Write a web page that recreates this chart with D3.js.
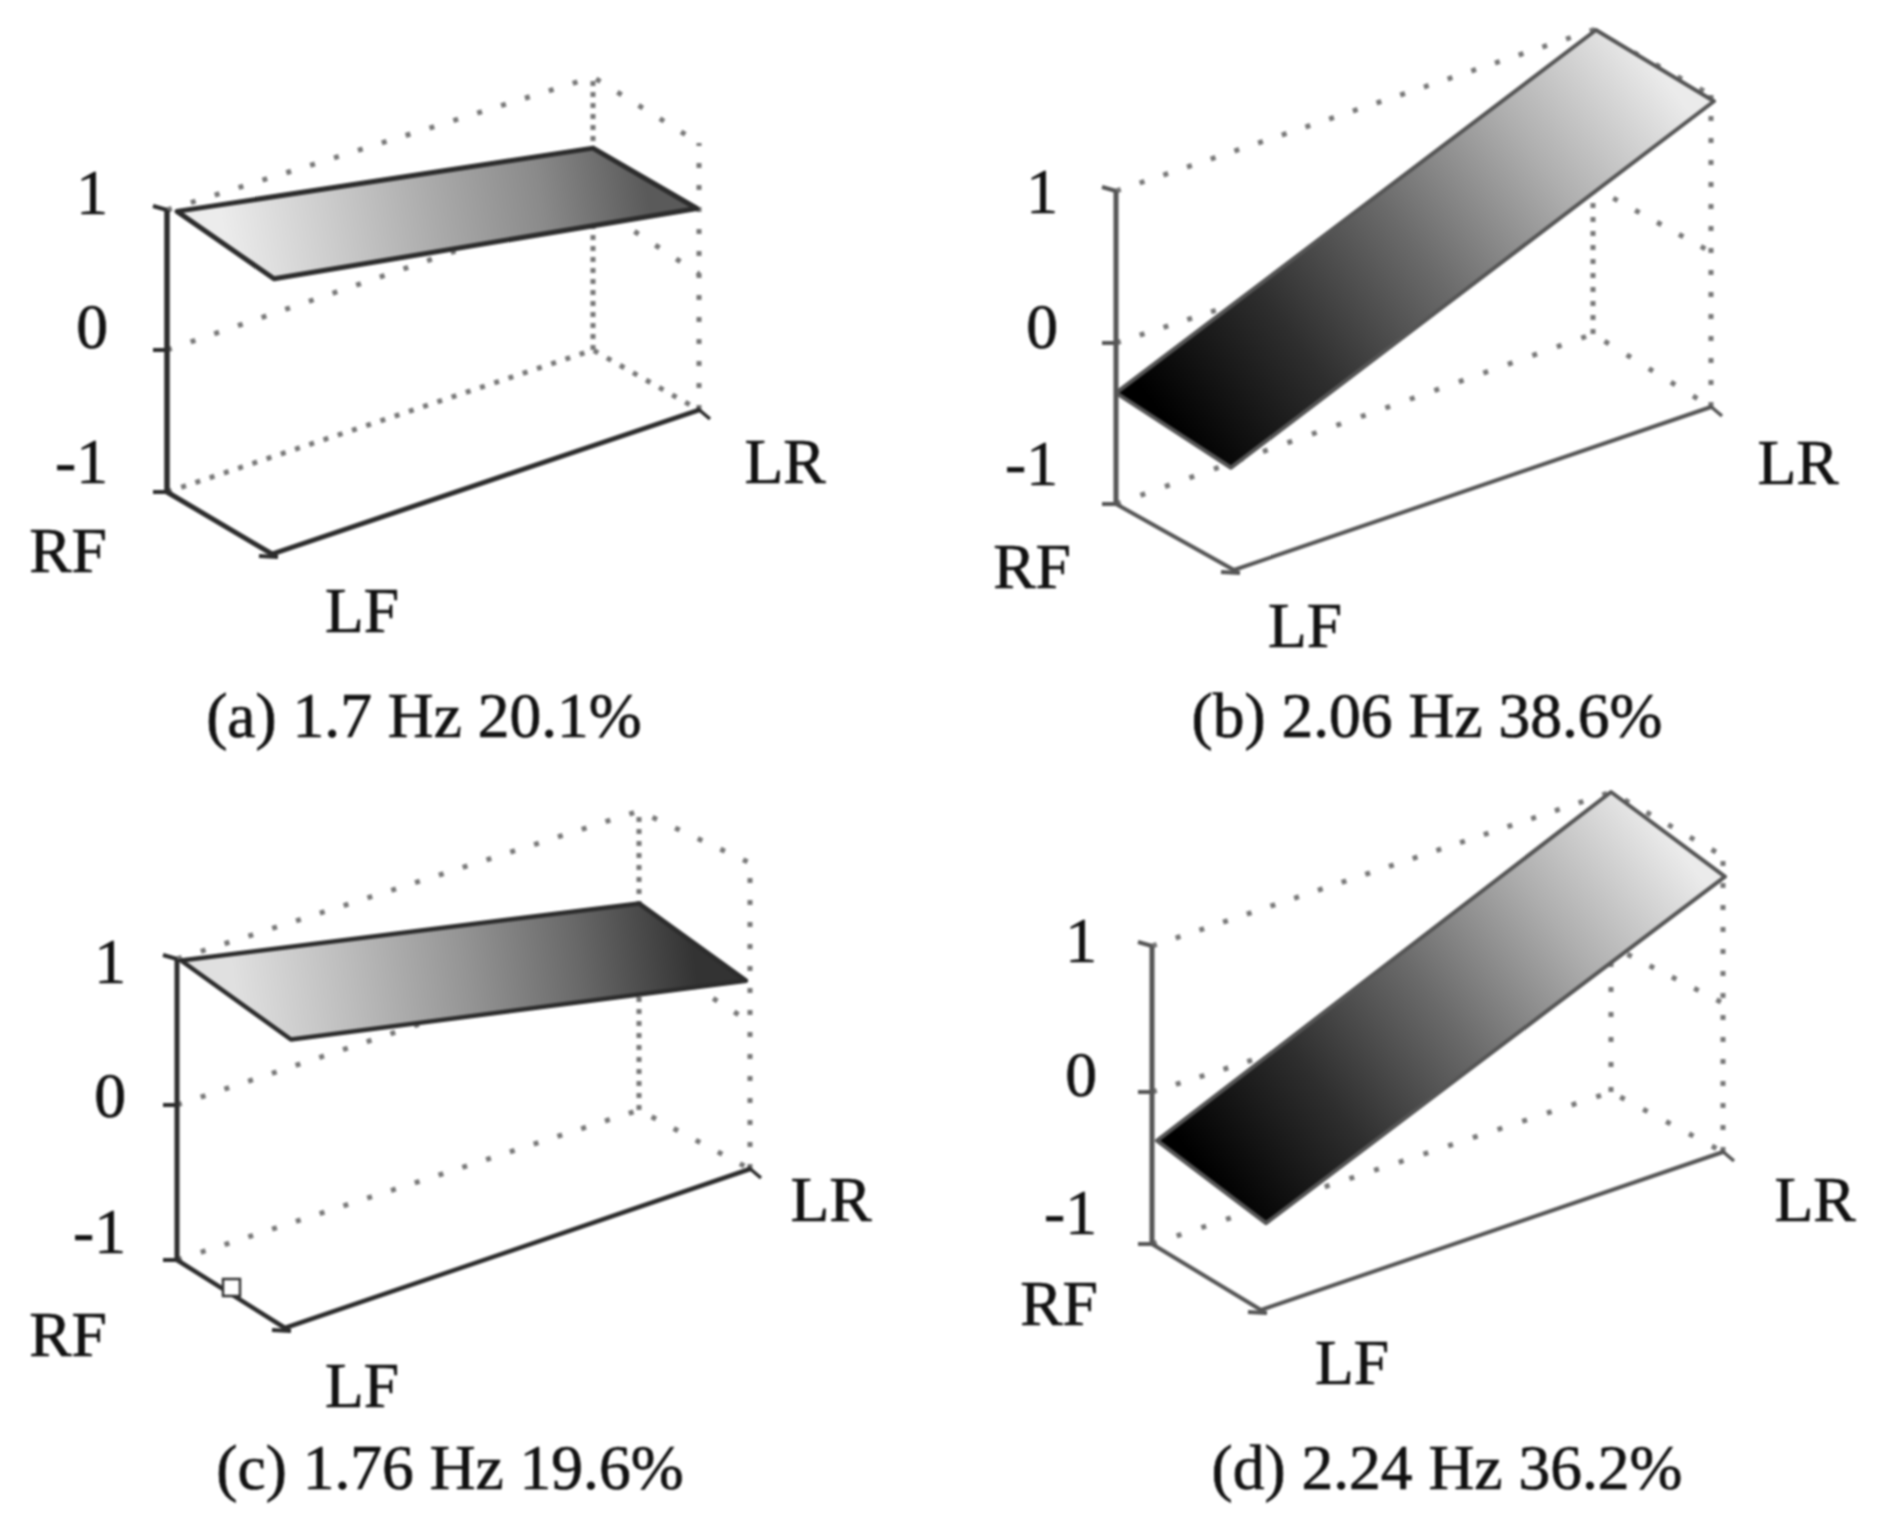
<!DOCTYPE html>
<html>
<head>
<meta charset="utf-8">
<script src="https://cdn.jsdelivr.net/npm/d3@7"></script>
<style>
  html, body { margin: 0; padding: 0; background: #fff; }
  svg { display: block; filter: blur(0.8px); }
  text { font-family: "Liberation Serif", serif; fill: #111; stroke: #111; stroke-width: 0.7px; }
</style>
</head>
<body>
<div id="graphic"></div>
<script>
// Values: mode shape at the four corners
const cornerNames = ["RF", "LF", "LR", "RR"];
const zTicks = [-1, 0, 1];
const zTickLabels = ["-1", "0", "1"];
const captions = ["(a) 1.7 Hz 20.1%", "(b) 2.06 Hz 38.6%", "(c) 1.76 Hz 19.6%", "(d) 2.24 Hz 36.2%"];
const modeA = [0.99, 0.91, 0.50, 0.44];
const modeB = [-0.31, -0.38, 0.96, 1.0];
const modeC = [0.99, 0.89, 0.26, 0.34];
const modeD = [-0.32, -0.44, 0.86, 1.0];

const darkShade = ["#000000", "#2e2e2e", "#6a6a6a", "#aeaeae", "#ebebeb"];

// Panel geometry. Each corner: x, y at z=-1, y at z=0, y at z=1, x of the surface corner
const panels = [
  {
    values: modeA,
    corners: { RF: [167, 492, 350, 210, 177], LF: [272, 554, 408, 266, 274], LR: [699, 410, 274, 143, 697], RR: [593, 350, 204, 77, 593] },
    shade: ["#ececec", "#cccccc", "#aaaaaa", "#8a8a8a", "#5a5a5a"], axisColor: "#2c2c2c", axisWidth: 5.5, edgeWidth: 5,
    gaps: { top: 25, mid: 25, base: 15, rr: 11, lr: 22 },
    ticksEnd: 108, tickY: [483, 348, 214],
    labels: { RF: [68, 572], LF: [362, 632], LR: [785, 483] }, caption: [424, 737]
  },
  {
    values: modeB,
    corners: { RF: [1116, 504, 343, 191, 1116], LF: [1234, 570, 405, 250, 1231], LR: [1711, 407, 252, 95, 1714], RR: [1593, 334, 187, 30, 1596] },
    shade: darkShade, axisColor: "#555", axisWidth: 5, edgeWidth: 4,
    gaps: { top: 25, mid: 25, base: 26, rr: 14, lr: 22 },
    ticksEnd: 1058, tickY: [485, 348, 213],
    labels: { RF: [1032, 588], LF: [1305, 647], LR: [1798, 484] }, caption: [1427, 737]
  },
  {
    values: modeC,
    corners: { RF: [177, 1260, 1105, 959, 181], LF: [285, 1328, 1173, 1023, 291], LR: [750, 1169, 1022, 863, 746], RR: [639, 1110, 951, 811, 639] },
    shade: ["#e0e0e0", "#bcbcbc", "#959595", "#686868", "#333333"], axisColor: "#2c2c2c", axisWidth: 5, edgeWidth: 4.5,
    gaps: { top: 25, mid: 25, base: 25, rr: 12, lr: 22 },
    ticksEnd: 126, tickY: [1253, 1117, 983],
    labels: { RF: [68, 1356], LF: [362, 1407], LR: [831, 1221] }, caption: [450, 1489],
    marker: 0.5
  },
  {
    values: modeD,
    corners: { RF: [1152, 1244, 1092, 946, 1157], LF: [1261, 1310, 1155, 1008, 1266], LR: [1723, 1152, 1003, 856, 1725], RR: [1611, 1092, 946, 792, 1611] },
    shade: darkShade, axisColor: "#555", axisWidth: 5, edgeWidth: 4,
    gaps: { top: 25, mid: 25, base: 26, rr: 25, lr: 22 },
    ticksEnd: 1097, tickY: [1234, 1096, 962],
    labels: { RF: [1059, 1325], LF: [1352, 1384], LR: [1815, 1221] }, caption: [1447, 1489]
  }
];

const svg = d3.select("#graphic")
  .append("svg")
  .attr("width", 1884)
  .attr("height", 1524);

const defs = svg.append("defs");
const line = d3.line();
const fontSize = 63.5;

panels.forEach(function drawPanel(panel, i) {
  const g = svg.append("g");
  const c = panel.corners;

  // One z scale for each vertical edge of the box
  const z = {};
  cornerNames.forEach(name => {
    z[name] = d3.scaleLinear().domain(zTicks).range(c[name].slice(1, 4));
  });
  const at = (name, value) => [c[name][0], z[name](value)];

  // Dotted back walls
  const dotted = (points, gap) => g.append("path")
    .attr("d", line(points))
    .attr("fill", "none")
    .attr("stroke", "#777")
    .attr("stroke-width", 5)
    .attr("stroke-dasharray", `5 ${gap - 5}`);

  dotted([at("RF", 1), at("RR", 1), at("LR", 1)], panel.gaps.top);
  dotted([at("RF", 0), at("RR", 0), at("LR", 0)], panel.gaps.mid);
  dotted([at("RF", -1), at("RR", -1), at("LR", -1)], panel.gaps.base);
  dotted([at("RR", -1), at("RR", 1)], panel.gaps.rr);
  dotted([at("LR", -1), at("LR", 1)], panel.gaps.lr);

  // Solid axis, base edges and little ticks
  const solid = (points, width) => g.append("path")
    .attr("d", line(points))
    .attr("fill", "none")
    .attr("stroke", panel.axisColor)
    .attr("stroke-width", width);

  solid([at("RF", -1), at("RF", 1)], panel.axisWidth);
  solid([at("RF", -1), at("LF", -1), at("LR", -1)], panel.edgeWidth);
  zTicks.forEach(t => {
    const [x, y] = at("RF", t);
    solid([[x - 14, y - (t === 1 ? 4 : 0)], [x, y]], 4);
  });
  const [lfx, lfy] = at("LF", -1);
  solid([[lfx - 13, lfy + 2], [lfx + 6, lfy + 3]], 4);
  const [lrx, lry] = at("LR", -1);
  solid([[lrx - 2, lry - 2], [lrx + 11, lry + 9]], 3.5);

  // Surface, shaded from its low end to its high end
  const surface = cornerNames.map((name, k) => [c[name][4], z[name](panel.values[k])]);
  const mid = (a, b) => [(a[0] + b[0]) / 2, (a[1] + b[1]) / 2];
  const from = mid(surface[0], surface[1]);
  const to = mid(surface[2], surface[3]);
  const gradient = defs.append("linearGradient")
    .attr("id", `shade-${i}`)
    .attr("gradientUnits", "userSpaceOnUse")
    .attr("x1", from[0]).attr("y1", from[1])
    .attr("x2", to[0]).attr("y2", to[1]);
  panel.shade.forEach((color, k) => {
    gradient.append("stop")
      .attr("offset", k / (panel.shade.length - 1))
      .attr("stop-color", color);
  });

  g.append("path")
    .attr("d", line([surface[0], surface[1], surface[2], surface[3]]) + "Z")
    .attr("fill", `url(#shade-${i})`)
    .attr("stroke", panel.axisColor)
    .attr("stroke-width", panel.edgeWidth)
    .attr("stroke-linejoin", "round");

  // Stray square marker on the RF-LF edge of panel (c)
  if (panel.marker) {
    const p = d3.interpolate(at("RF", -1), at("LF", -1))(panel.marker);
    g.append("rect")
      .attr("x", p[0] - 8).attr("y", p[1] - 15)
      .attr("width", 17).attr("height", 17)
      .attr("fill", "#fff")
      .attr("stroke", "#333")
      .attr("stroke-width", 2.5);
  }

  // Text
  zTickLabels.forEach((label, k) => {
    g.append("text")
      .attr("x", panel.ticksEnd)
      .attr("y", panel.tickY[k])
      .attr("text-anchor", "end")
      .attr("font-size", fontSize)
      .text(label);
  });
  Object.entries(panel.labels).forEach(([name, pos]) => {
    g.append("text")
      .attr("x", pos[0])
      .attr("y", pos[1])
      .attr("text-anchor", "middle")
      .attr("font-size", fontSize)
      .text(name);
  });
  g.append("text")
    .attr("x", panel.caption[0])
    .attr("y", panel.caption[1])
    .attr("text-anchor", "middle")
    .attr("font-size", fontSize)
    .text(captions[i]);
});
</script>
</body>
</html>
